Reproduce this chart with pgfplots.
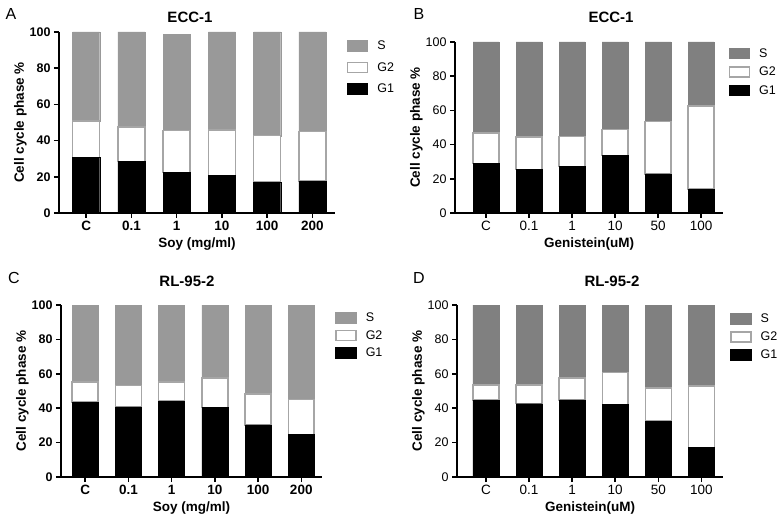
\documentclass[border=0pt]{standalone}
\usepackage{fontspec}
\setmainfont{Liberation Sans}
\usepackage{pgfplots}
\usepackage{pgfplotstable}
\pgfplotsset{compat=1.18}

\definecolor{sLight}{HTML}{999999}
\definecolor{sDark}{HTML}{808080}
\definecolor{edge}{HTML}{A6A6A6}

% stacked segments: G1, G2, S (percent)
\pgfplotstableread{
x G1 G2 S
0 30.8 20.0 49.2
1 28.4 19.1 52.5
2 22.4 23.2 53.2
3 20.8 25.1 54.1
4 17.0 25.7 57.3
5 17.6 27.5 54.9
}\soyecc
\pgfplotstableread{
x G1 G2 S
0 29.0 17.9 53.1
1 25.4 19.1 55.5
2 27.1 17.7 55.2
3 33.6 15.1 51.3
4 22.9 30.7 46.4
5 14.0 48.7 37.3
}\genecc
\pgfplotstableread{
x G1 G2 S
0 43.5 11.6 44.9
1 40.7 12.5 46.8
2 44.1 11.1 44.8
3 40.5 17.2 42.3
4 30.3 17.9 51.8
5 24.8 20.4 54.8
}\soyrl
\pgfplotstableread{
x G1 G2 S
0 44.7 8.8 46.5
1 42.6 10.9 46.5
2 44.9 12.7 42.4
3 42.2 18.6 39.2
4 32.5 19.2 48.3
5 17.2 35.6 47.2
}\genrl

\newcommand\fs[1]{\fontsize{#1}{#1}\selectfont}

\pgfplotsset{
  panel/.style={
    scale only axis, anchor=south west,
    axis x line=bottom, axis y line=left,
    axis line style={line width=1.5pt, -},
    ymin=0, ymax=100, ytick={0,20,...,100},
    xtick={0,...,5},
    ybar stacked, bar width=0.6,
    tick align=outside, major tick length=5pt,
    tick style={line width=1.5pt, black},
    /pgf/number format/assume math mode=true,
    ylabel={Cell cycle phase \%},
    ylabel shift=-4pt,
    ylabel style={font=\bfseries\fs{13.5}},
    xlabel style={font=\bfseries\fs{13.5}},
    reverse legend,
    legend cell align=left,
    legend image code/.code={\draw[##1, line width=1.5pt] (0pt,-5pt) rectangle (20pt,5pt);},
    legend style={draw=none, fill=none, anchor=north west, inner sep=0pt,
      font=\fs{12.5},
      nodes={inner sep=0pt},
      /tikz/every odd column/.append style={column sep=9pt}},
  },
  boldticks/.style={
    yticklabel style={font=\bfseries\fs{12.5}},
    xticklabel style={font=\bfseries\fs{13.5}},
  },
  plainticks/.style={
    yticklabel style={font=\fs{12.5}},
    xticklabel style={font=\fs{13.5}},
  },
}

\begin{document}
\begin{tikzpicture}
\useasboundingbox (0pt,0pt) rectangle (781pt,528pt);

% A
\begin{axis}[panel, boldticks, at={(59pt,315pt)}, width=276pt, height=181pt,
  xmin=-0.6, xmax=5.5,
  xticklabels={C,0.1,1,10,100,200}, xlabel={Soy (mg/ml)},
  legend style={at={(1.042,0.956)}, /tikz/row sep=10pt}]
\addplot[fill=black, draw=black] table[x=x, y=G1] {\soyecc};
\addplot[fill=white, draw=edge, line width=1.5pt] table[x=x, y=G2] {\soyecc};
\addplot[fill=sLight, draw=sLight] table[x=x, y=S] {\soyecc};
\legend{G1,G2,S}
\end{axis}

% B
\begin{axis}[panel, plainticks, at={(455pt,315pt)}, width=268pt, height=171pt,
  xmin=-0.72, xmax=5.51,
  xticklabels={C,0.1,1,10,50,100}, xlabel={Genistein(uM)},
  legend style={at={(1.02,0.967)}, /tikz/row sep=7pt}]
\addplot[fill=black, draw=black] table[x=x, y=G1] {\genecc};
\addplot[fill=white, draw=edge, line width=1.5pt] table[x=x, y=G2] {\genecc};
\addplot[fill=sDark, draw=sDark] table[x=x, y=S] {\genecc};
\legend{G1,G2,S}
\end{axis}

% C
\begin{axis}[panel, boldticks, at={(61pt,51pt)}, width=261pt, height=172pt,
  xmin=-0.56, xmax=5.48,
  xticklabels={C,0.1,1,10,100,200}, xlabel={Soy (mg/ml)},
  legend style={at={(1.05,0.958)}, /tikz/row sep=6pt}]
\addplot[fill=black, draw=black] table[x=x, y=G1] {\soyrl};
\addplot[fill=white, draw=edge, line width=1.5pt] table[x=x, y=G2] {\soyrl};
\addplot[fill=sLight, draw=sLight] table[x=x, y=S] {\soyrl};
\legend{G1,G2,S}
\end{axis}

% D
\begin{axis}[panel, plainticks, at={(457pt,51pt)}, width=266pt, height=172pt,
  xmin=-0.67, xmax=5.5,
  xticklabels={C,0.1,1,10,50,100}, xlabel={Genistein(uM)},
  legend style={at={(1.026,0.952)}, /tikz/row sep=6.5pt}]
\addplot[fill=black, draw=black] table[x=x, y=G1] {\genrl};
\addplot[fill=white, draw=edge, line width=1.5pt] table[x=x, y=G2] {\genrl};
\addplot[fill=sDark, draw=sDark] table[x=x, y=S] {\genrl};
\legend{G1,G2,S}
\end{axis}

% titles and panel letters
\node[font=\bfseries\fs{15}] at (190pt,511pt) {ECC-1};
\node[font=\bfseries\fs{15}] at (611pt,511pt) {ECC-1};
\node[font=\bfseries\fs{15}] at (187pt,247pt) {RL-95-2};
\node[font=\bfseries\fs{15}] at (612pt,247pt) {RL-95-2};
\node[font=\fs{16}] at (11pt,514pt) {A};
\node[font=\fs{16}] at (419pt,514pt) {B};
\node[font=\fs{16}] at (14pt,250pt) {C};
\node[font=\fs{16}] at (419pt,250pt) {D};
\end{tikzpicture}
\end{document}
